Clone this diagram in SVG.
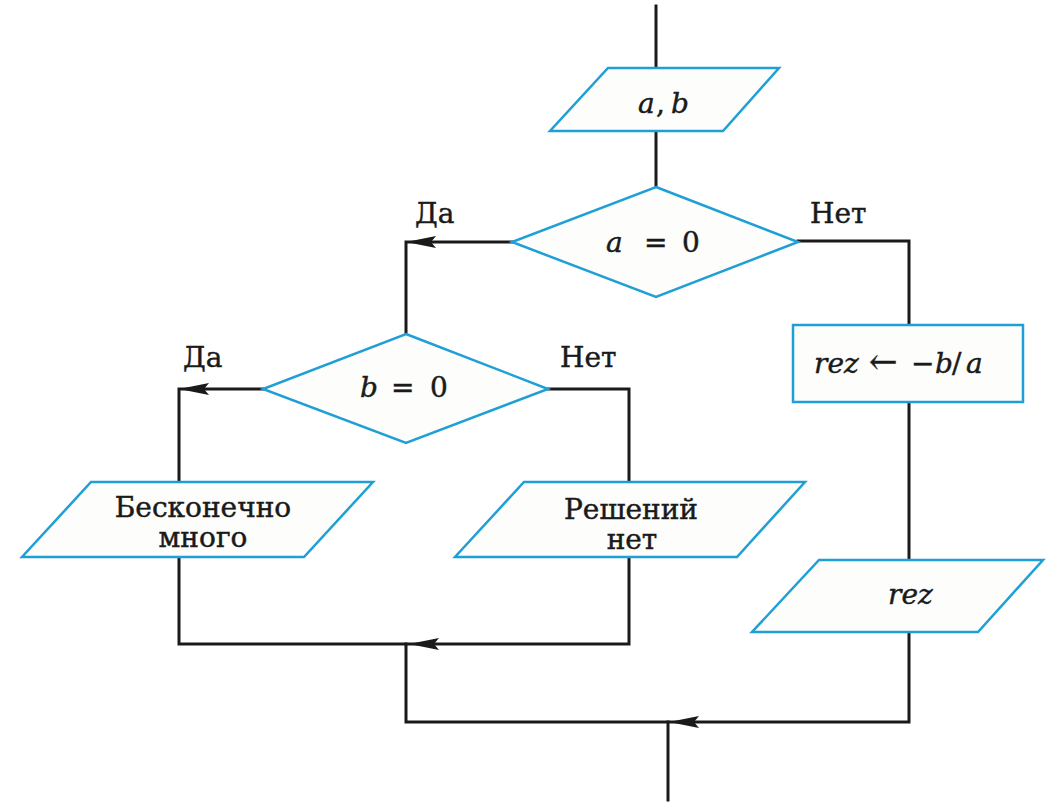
<svg xmlns="http://www.w3.org/2000/svg" xmlns:xlink="http://www.w3.org/1999/xlink" width="1053" height="804" viewBox="0 0 1053 804">
<style>
.shape{fill:#fdfdfb;stroke:#1f9fd6;stroke-width:2.5;stroke-linejoin:miter}
.conn{fill:none;stroke:#1a1a1a;stroke-width:3;stroke-linejoin:miter;stroke-linecap:square}
.t{font-family:"DejaVu Serif","Liberation Serif",serif;font-size:28px;fill:#1a1a1a;stroke:#1a1a1a;stroke-width:0.45}
.m{font-family:"DejaVu Serif","Liberation Serif",serif;font-size:28px;fill:#1a1a1a;stroke:#1a1a1a;stroke-width:0.45}
.i{font-style:italic}
</style>
<defs>
<path id="ah" d="M0,0 L30,-6 L25,0 L30,6 Z" fill="#1a1a1a"/>
</defs>
<rect width="1053" height="804" fill="#ffffff"/>
<g id="connectors">
<path class="conn" d="M656,6 V68"/>
<path class="conn" d="M656,131 V187"/>
<path class="conn" d="M512,242 H406 V334"/>
<path class="conn" d="M798,241 H909 V325"/>
<path class="conn" d="M909,402 V560"/>
<path class="conn" d="M263,389 H179 V482"/>
<path class="conn" d="M548,389 H629 V482"/>
<path class="conn" d="M179,557 V644 H406 V722 H909 V632"/>
<path class="conn" d="M629,557 V644 H406"/>
<path class="conn" d="M668,722 V800"/>
<use xlink:href="#ah" x="406" y="242"/>
<use xlink:href="#ah" x="179" y="389"/>
<use xlink:href="#ah" x="409" y="644"/>
<use xlink:href="#ah" x="669" y="722"/>
</g>
<g id="input-ab">
<polygon class="shape" points="608,68 779,68 723,131 550,131"/>
<text class="m" y="113"><tspan class="i" x="638">a</tspan><tspan x="656">,</tspan><tspan class="i" x="671">b</tspan></text>
</g>
<g id="cond-a">
<polygon class="shape" points="656,187 798,242 656,297 512,242"/>
<text class="m" y="252"><tspan class="i" x="606">a</tspan><tspan x="644">=</tspan><tspan x="682">0</tspan></text>
</g>
<g id="label-da1"><text class="t" x="415" y="223">Да</text></g>
<g id="label-net1"><text class="t" x="810" y="223">Нет</text></g>
<g id="cond-b">
<polygon class="shape" points="406,334 548,389 406,443 263,389"/>
<text class="m" y="397"><tspan class="i" x="360">b</tspan><tspan x="391">=</tspan><tspan x="430">0</tspan></text>
</g>
<g id="label-da2"><text class="t" x="183" y="367">Да</text></g>
<g id="label-net2"><text class="t" x="560" y="367">Нет</text></g>
<g id="assign">
<rect class="shape" x="793" y="325" width="230" height="77"/>
<text class="m" y="373"><tspan class="i" x="814">rez</tspan><tspan x="869" style="font-size:34px">←</tspan><tspan x="911">−</tspan><tspan class="i" x="935">b</tspan><tspan x="952">/</tspan><tspan class="i" x="966">a</tspan></text>
</g>
<g id="out-inf">
<polygon class="shape" points="91,482 373,482 304,557 22,557"/>
<text class="t" x="203" y="517" text-anchor="middle">Бесконечно</text>
<text class="t" x="203" y="547" text-anchor="middle">много</text>
</g>
<g id="out-none">
<polygon class="shape" points="524,482 805,482 737,557 455,557"/>
<text class="t" x="631" y="519" text-anchor="middle">Решений</text>
<text class="t" x="632" y="549" text-anchor="middle">нет</text>
</g>
<g id="out-rez">
<polygon class="shape" points="819,560 1043,560 978,632 752,632"/>
<text class="m" x="888" y="604"><tspan class="i">rez</tspan></text>
</g>
</svg>
